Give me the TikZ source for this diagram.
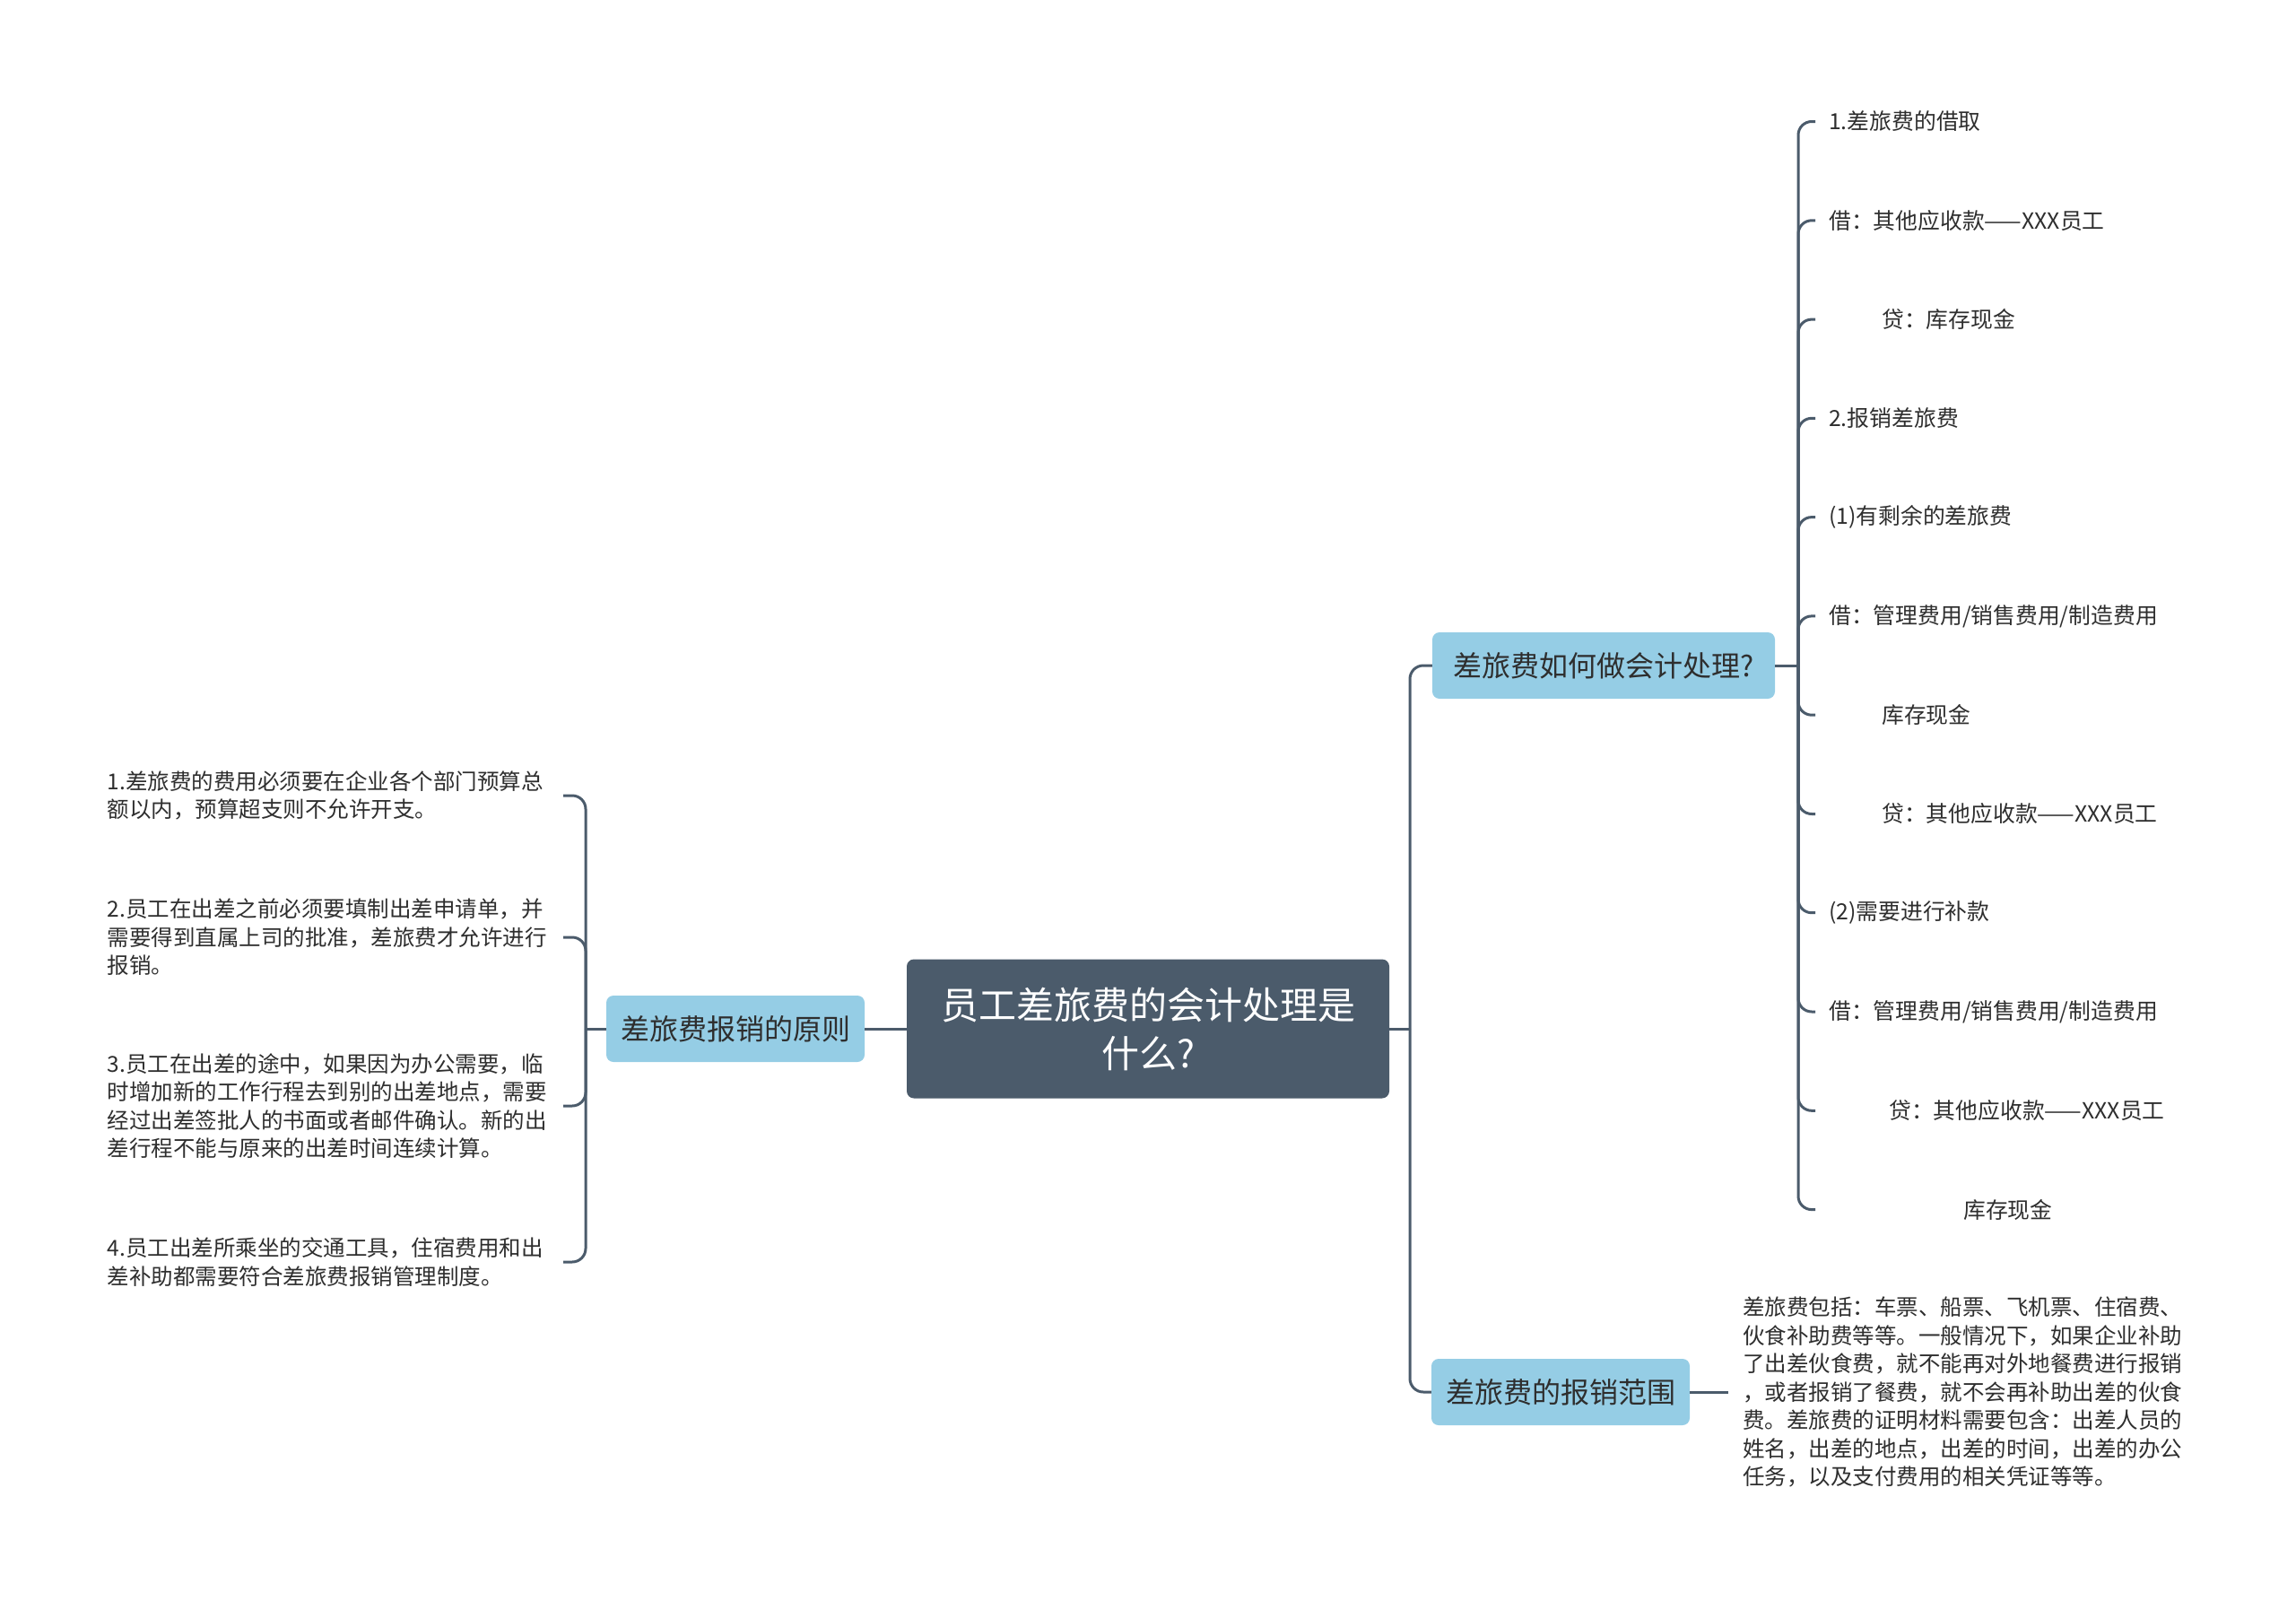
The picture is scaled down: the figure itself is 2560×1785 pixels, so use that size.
\documentclass[tikz,border=0pt]{standalone}
\usepackage{fontspec}
\setmainfont{Noto Sans CJK SC}
\definecolor{slate}{HTML}{4B5B6B}
\definecolor{skyblue}{HTML}{95CDE5}
\definecolor{inkgray}{HTML}{2E2E2E}

\tikzset{
  root/.style={fill=slate, text=white, rounded corners=8, minimum width=538, minimum height=155, align=center, font=\fontsize{42}{54}\selectfont},
  branch/.style={fill=skyblue, text=inkgray, rounded corners=8, minimum height=74, inner xsep=16, font=\fontsize{32}{38}\selectfont},
  leaf/.style={anchor=west, inner xsep=15, text=inkgray, font=\fontsize{24.8}{31.5}\selectfont},
  note/.style={text=inkgray, align=left, inner xsep=0, font=\fontsize{24.5}{31.5}\selectfont},
  link/.style={draw=slate, line width=3, rounded corners=15},
}

\begin{document}
\begin{tikzpicture}[x=1pt, y=-1pt]
\useasboundingbox (0,0) rectangle (2560,1785);

% centre and main branches
\node[root] (root) at (1280,1147) {员工差旅费的会计处理是\\什么?};
\node[branch] (rule) at (820,1147) {差旅费报销的原则};
\node[branch, minimum width=382] (acc) at (1788,742) {差旅费如何做会计处理?};
\node[branch] (scope) at (1740,1552) {差旅费的报销范围};

\coordinate (mj) at (1572,1147);
\coordinate (lj) at (653,1147);
\coordinate (aj) at (2005,742);

% left: principles
\node[note, text width=508, anchor=east] (p1) at (628,887) {1.差旅费的费用必须要在企业各个部门预算总\\额以内，预算超支则不允许开支。};
\node[note, text width=508, anchor=east] (p2) at (628,1045) {2.员工在出差之前必须要填制出差申请单，并\\需要得到直属上司的批准，差旅费才允许进行\\报销。};
\node[note, text width=508, anchor=east] (p3) at (628,1233) {3.员工在出差的途中，如果因为办公需要，临\\时增加新的工作行程去到别的出差地点，需要\\经过出差签批人的书面或者邮件确认。新的出\\差行程不能与原来的出差时间连续计算。};
\node[note, text width=508, anchor=east] (p4) at (628,1407) {4.员工出差所乘坐的交通工具，住宿费用和出\\差补助都需要符合差旅费报销管理制度。};

% right: accounting entries
\node[leaf] (a1) at (2024,135.5) {1.差旅费的借取};
\node[leaf] (a2) at (2024,245.8) {借：其他应收款——XXX员工};
\node[leaf] (a3) at (2024,356.1) {\hspace*{59pt}贷：库存现金};
\node[leaf] (a4) at (2024,466.3) {2.报销差旅费};
\node[leaf] (a5) at (2024,576.6) {(1)有剩余的差旅费};
\node[leaf] (a6) at (2024,686.9) {借：管理费用/销售费用/制造费用};
\node[leaf] (a7) at (2024,797.2) {\hspace*{59pt}库存现金};
\node[leaf] (a8) at (2024,907.5) {\hspace*{59pt}贷：其他应收款——XXX员工};
\node[leaf] (a9) at (2024,1017.7) {(2)需要进行补款};
\node[leaf] (a10) at (2024,1128.0) {借：管理费用/销售费用/制造费用};
\node[leaf] (a11) at (2024,1238.3) {\hspace*{67pt}贷：其他应收款——XXX员工};
\node[leaf] (a12) at (2024,1348.6) {\hspace*{150pt}库存现金};

% right: scope
\node[note, text width=505, anchor=west, inner xsep=16] (s1) at (1927,1552) {差旅费包括：车票、船票、飞机票、住宿费、\\伙食补助费等等。一般情况下，如果企业补助\\了出差伙食费，就不能再对外地餐费进行报销\\，或者报销了餐费，就不会再补助出差的伙食\\费。差旅费的证明材料需要包含：出差人员的\\姓名，出差的地点，出差的时间，出差的办公\\任务，以及支付费用的相关凭证等等。};

% connectors
\draw[link] (root.west) -- (rule.east);
\draw[link] (root.east) -- (mj);
\draw[link] (mj) |- (acc.west);
\draw[link] (mj) |- (scope.west);
\draw[link] (rule.west) -- (lj);
\foreach \k in {1,...,4}
  \draw[link] (lj) |- (p\k.east);
\draw[link] (acc.east) -- (aj);
\foreach \k in {1,...,12}
  \draw[link] (aj) |- (a\k.west);
\draw[link] (scope.east) -- (s1.west);
\end{tikzpicture}
\end{document}
